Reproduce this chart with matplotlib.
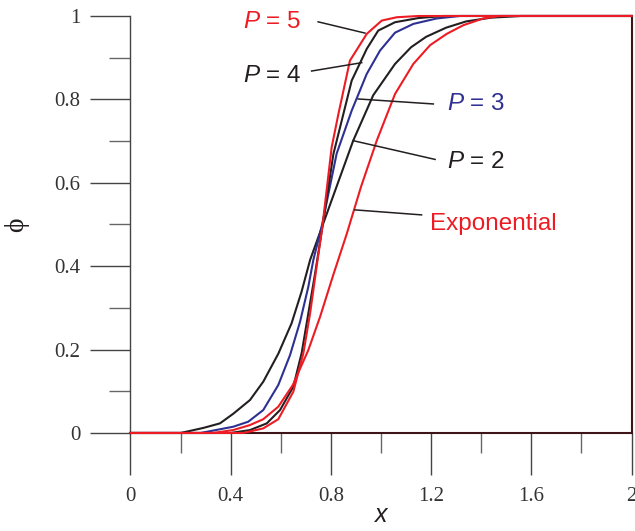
import matplotlib
matplotlib.use("Agg")
import matplotlib.pyplot as plt
from matplotlib.ticker import MultipleLocator

plt.rcParams['mathtext.fontset'] = 'custom'
plt.rcParams['mathtext.it'] = 'Liberation Sans:italic'
plt.rcParams['mathtext.rm'] = 'Liberation Sans'

# profiles phi(x) for each P and the exponential profile
x_p2 = [0, 0.2, 0.29, 0.357, 0.41, 0.477, 0.53, 0.59, 0.643, 0.683, 0.717, 0.756,
        0.889, 0.969, 1.056, 1.12, 1.18, 1.26, 1.34, 1.44, 1.56, 2.0]
phi_p2 = [0, 0, 0.012, 0.023, 0.046, 0.079, 0.123, 0.19, 0.263, 0.339, 0.415, 0.48,
          0.701, 0.81, 0.885, 0.925, 0.95, 0.972, 0.987, 0.996, 1.0, 1.0]

x_p3 = [0, 0.28, 0.41, 0.47, 0.53, 0.59, 0.637, 0.677, 0.71, 0.73, 0.765, 0.823,
        0.883, 0.943, 0.996, 1.056, 1.129, 1.222, 1.315, 2.0]
phi_p3 = [0, 0, 0.015, 0.027, 0.055, 0.115, 0.187, 0.267, 0.351, 0.415, 0.5, 0.67,
          0.773, 0.861, 0.917, 0.96, 0.981, 0.994, 1.0, 1.0]

x_p4 = [0, 0.4, 0.477, 0.544, 0.597, 0.65, 0.683, 0.71, 0.737, 0.765, 0.81, 0.883,
        0.943, 0.989, 1.056, 1.149, 1.25, 2.0]
phi_p4 = [0, 0, 0.007, 0.023, 0.055, 0.111, 0.191, 0.287, 0.383, 0.49, 0.669, 0.845,
          0.921, 0.965, 0.985, 0.995, 1.0, 1.0]

x_p5 = [0, 0.45, 0.53, 0.59, 0.65, 0.69, 0.717, 0.743, 0.765, 0.803, 0.83, 0.876,
        0.943, 1.003, 1.063, 1.15, 2.0]
phi_p5 = [0, 0, 0.011, 0.033, 0.099, 0.191, 0.287, 0.399, 0.49, 0.685, 0.765, 0.893,
          0.957, 0.989, 0.997, 1.0, 1.0]

x_exp = [0, 0.33, 0.41, 0.477, 0.53, 0.59, 0.648, 0.71, 0.757, 0.81, 0.863, 0.92,
         0.983, 1.056, 1.129, 1.196, 1.262, 1.329, 1.408, 1.475, 2.0]
phi_exp = [0, 0, 0.007, 0.019, 0.033, 0.063, 0.115, 0.199, 0.279, 0.38, 0.477, 0.59,
           0.701, 0.813, 0.885, 0.93, 0.957, 0.978, 0.994, 1.0, 1.0]

x_ticks = [0, 0.4, 0.8, 1.2, 1.6, 2.0]
x_tick_labels = ['0', '0.4', '0.8', '1.2', '1.6', '2']
y_ticks = [0, 0.2, 0.4, 0.6, 0.8, 1.0]
y_tick_labels = ['0', '0.2', '0.4', '0.6', '0.8', '1']

RED = '#ed1c24'
BLUE = '#2e3192'
BLACK = '#231f20'

fig = plt.figure(figsize=(6.35, 5.31), dpi=100)
ax = fig.add_axes([0.2055, 0.1846, 0.789, 0.7853])

curves = [(x_p2, phi_p2, BLACK), (x_p3, phi_p3, BLUE), (x_p4, phi_p4, BLACK),
          (x_p5, phi_p5, RED), (x_exp, phi_exp, RED)]
for xs, ys, c in curves:
    ax.plot(xs, ys, color=c, lw=1.5, clip_on=False, zorder=3)

ax.set_xlim(0, 2)
ax.set_ylim(0, 1)

# leader lines and curve labels
labels = [
    ('$P$ = 5', RED, (0.749, 0.936), (0.986, 0.959), (0.449, 0.986)),
    ('$P$ = 4', BLACK, (0.723, 0.923), (0.868, 0.888), (0.449, 0.855)),
    ('$P$ = 3', BLUE, (0.909, 1.209), (0.801, 0.789), (1.262, 0.790)),
    ('$P$ = 2', BLACK, (0.889, 1.216), (0.701, 0.656), (1.262, 0.651)),
    ('Exponential', RED, (0.896, 1.162), (0.535, 0.523), (1.196, 0.501)),
]
for text, c, lx, ly, pos in labels:
    ax.plot(lx, ly, color=BLACK, lw=1.1, zorder=4)
    ax.text(pos[0], pos[1], text, color=c, fontsize=17.5, family='Liberation Sans',
            ha='left', va='center')

ax.spines['top'].set_visible(False)
ax.spines['left'].set_color('#444444')
ax.spines['left'].set_linewidth(1.0)
ax.spines['bottom'].set_color('#3d1518')
ax.spines['bottom'].set_linewidth(1.5)
ax.spines['right'].set_color('#3d1518')
ax.spines['right'].set_linewidth(1.5)

ax.set_xticks(x_ticks)
ax.set_xticklabels(x_tick_labels)
ax.set_yticks(y_ticks)
ax.set_yticklabels(y_tick_labels)
ax.xaxis.set_minor_locator(MultipleLocator(0.2))
ax.yaxis.set_minor_locator(MultipleLocator(0.1))
ax.tick_params(axis='x', which='major', direction='out', length=30, width=1.0,
               color='#444444', pad=9)
ax.tick_params(axis='x', which='minor', direction='out', length=14.5, width=1.0,
               color='#666666')
ax.tick_params(axis='y', which='major', direction='out', length=29, width=1.0,
               color='#444444', pad=7)
ax.tick_params(axis='y', which='minor', direction='out', length=15, width=1.0,
               color='#666666')
ax.tick_params(right=False, top=False, which='both')
for lab in ax.get_xticklabels() + ax.get_yticklabels():
    lab.set_family('Liberation Serif')
    lab.set_fontsize(15)
    lab.set_color('#333333')

ax.set_xlabel('x', family='Liberation Sans', style='italic', fontsize=18,
              color=BLACK, labelpad=-2)
ax.set_ylabel('\u03d5', family='Liberation Serif', fontsize=20, color=BLACK,
              labelpad=18)

fig.savefig('out.png', dpi=100)
